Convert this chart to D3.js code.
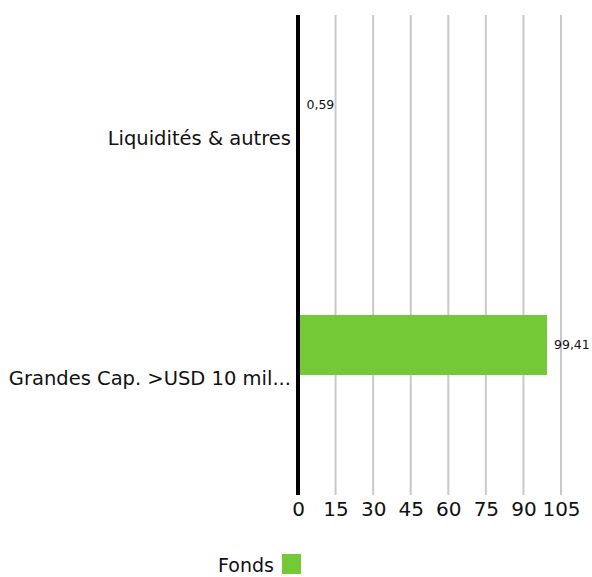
<!DOCTYPE html>
<html>
<head>
<meta charset="utf-8">
<script src="https://cdn.jsdelivr.net/npm/d3@7"></script>
<style>
  body { margin: 0; background: #fff; }
  text { font-family: "DejaVu Sans", sans-serif; fill: #111; }
</style>
</head>
<body>
<script>
"use strict";

// chart data
let categories = ["Liquidités & autres", "Grandes Cap. >USD 10 mil..."];
let fondsValues = [0.59, 99.41];
let tickValues = [0, 15, 30, 45, 60, 75, 90, 105];
let seriesName = "Fonds";

let w = 592;
let h = 577;
let plotLeft = 298, plotRight = 561, plotTop = 15, plotBottom = 495;

let svg = d3.select("body").append("svg")
    .attr("width", w)
    .attr("height", h);

let x = d3.scaleLinear().domain([0, 105]).range([plotLeft, plotRight]);
let y = d3.scaleBand().domain(categories).range([plotTop, plotBottom]);
// bars sit in the upper slot of each band
let slot = d3.scaleBand().domain([0, 1]).range([0, y.bandwidth()]).paddingInner(0).paddingOuter(1);

// gridlines
svg.append("g")
    .selectAll("line")
    .data(tickValues.slice(1))
    .enter().append("line")
    .attr("x1", d => x(d)).attr("x2", d => x(d))
    .attr("y1", plotTop).attr("y2", plotBottom)
    .attr("stroke", "#c8c8c8")
    .attr("stroke-width", 2);

// bars
svg.append("g")
    .selectAll("rect")
    .data(fondsValues)
    .enter().append("rect")
    .attr("x", x(0))
    .attr("y", (d, i) => y(categories[i]) + slot(0))
    .attr("width", d => x(d) - x(0))
    .attr("height", slot.bandwidth())
    .attr("fill", "#74c936");

// value labels
svg.append("g")
    .selectAll("text")
    .data(fondsValues)
    .enter().append("text")
    .attr("x", d => x(d) + 7)
    .attr("y", (d, i) => y(categories[i]) + slot(0) + slot.bandwidth() / 2)
    .attr("dy", "0.35em")
    .attr("font-size", 12.5)
    .text(d => d3.format(".2f")(d).replace(".", ","));

// zero axis
svg.append("line")
    .attr("x1", x(0)).attr("x2", x(0))
    .attr("y1", plotTop).attr("y2", plotBottom)
    .attr("stroke", "#000")
    .attr("stroke-width", 4);

// category labels
svg.append("g")
    .selectAll("text")
    .data(categories)
    .enter().append("text")
    .attr("x", 291)
    .attr("y", d => y(d) + y.bandwidth() / 2 + 3)
    .attr("dy", "0.35em")
    .attr("text-anchor", "end")
    .attr("font-size", 19.5)
    .text(d => d);

// x tick labels
let xAxis = d3.axisBottom(x).tickValues(tickValues).tickSize(0).tickPadding(7);
let gx = svg.append("g")
    .attr("transform", `translate(0,${plotBottom})`)
    .call(xAxis);
gx.select(".domain").remove();
gx.selectAll("text")
    .attr("font-size", 20)
    .attr("font-family", "DejaVu Sans, sans-serif")
    .attr("fill", "#111");

// legend
svg.append("text")
    .attr("x", 274)
    .attr("y", 565)
    .attr("dy", "0.35em")
    .attr("text-anchor", "end")
    .attr("font-size", 19)
    .text(seriesName);
svg.append("rect")
    .attr("x", 282).attr("y", 554)
    .attr("width", 19).attr("height", 20)
    .attr("fill", "#74c936");
</script>
</body>
</html>
